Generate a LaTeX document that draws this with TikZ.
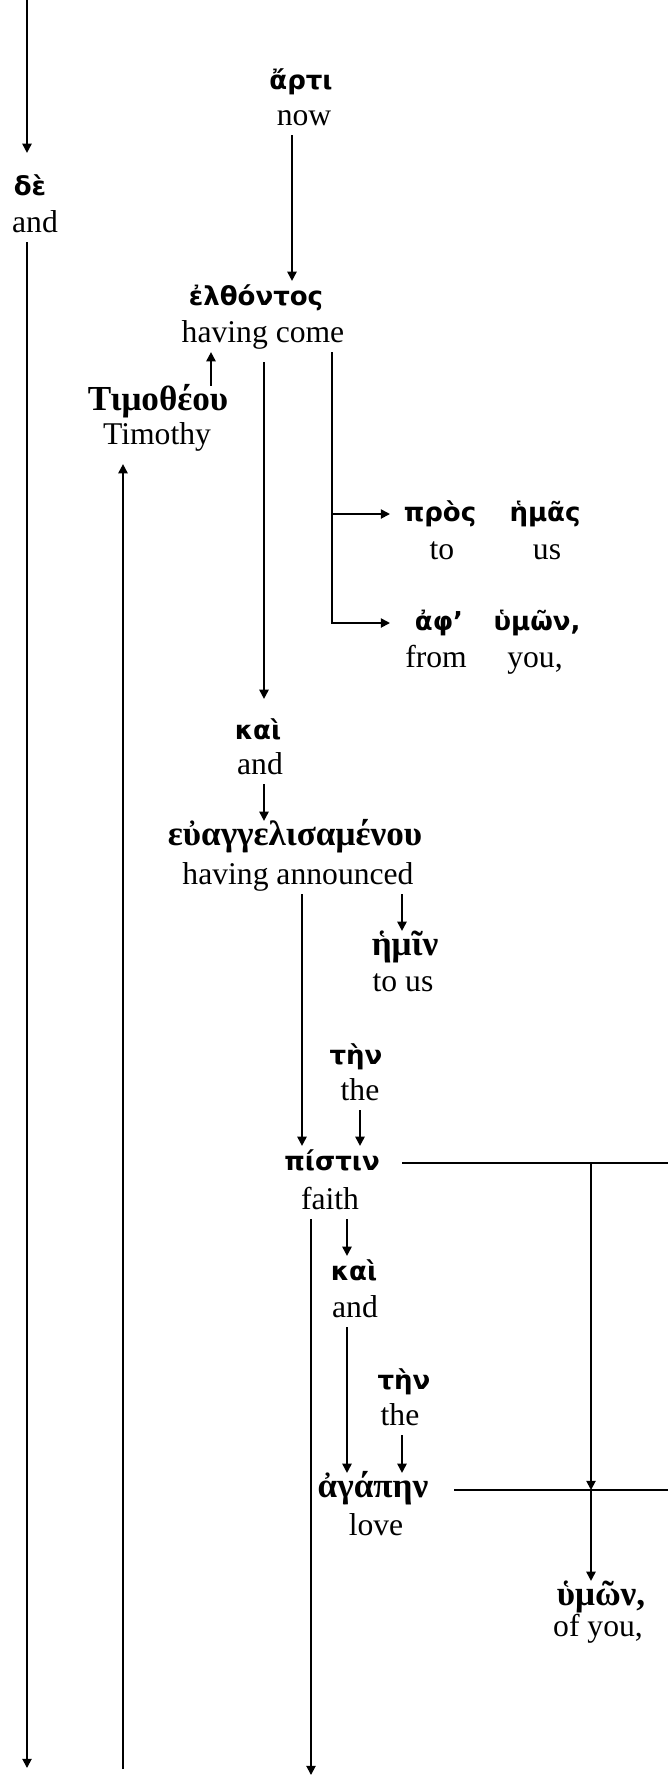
\documentclass[tikz,border=0pt]{standalone}
\usepackage{fontspec}
\setmainfont{Liberation Serif}
\newfontfamily\grk{DejaVu Sans}
\newfontfamily\grks{Liberation Serif}
\usetikzlibrary{arrows.meta,calc}

\tikzset{
  >={Triangle[length=2.3mm,width=2.3mm]},
  gk/.style={font=\grk\bfseries\fontsize{18.5}{24}\selectfont, inner sep=0pt, text height=17pt, text depth=6pt},
  gks/.style={gk, font=\grks\bfseries\fontsize{25}{26}\selectfont},
  en/.style={font=\fontsize{22.5}{26}\selectfont, inner sep=0pt, text height=17pt, text depth=6pt},
}

\begin{document}
\begin{tikzpicture}[x=0.025cm,y=-0.025cm,line width=1.3pt]
 \useasboundingbox (0,0) rectangle (668,1775);
 % words
 \node[gk] (de) at (30,188) {δὲ};
 \node[en] (de-e) at (35,225) {and};
 \node[gk] (arti) at (301,82) {ἄρτι};
 \node[en] (arti-e) at (304,118) {now};
 \node[gk] (elth) at (256,298) {ἐλθόντος};
 \node[en] (elth-e) at (263,335) {having come};
 \node[gks] (timo) at (158,403) {Τιμοθέου};
 \node[en] (timo-e) at (157,437) {Timothy};
 \node[gk] (pros) at (440,514) {πρὸς};
 \node[en] (pros-e) at (442,552) {to};
 \node[gk] (hemas) at (545,514) {ἡμᾶς};
 \node[en] (hemas-e) at (547,552) {us};
 \node[gk] (aph) at (439,623) {ἀφ’};
 \node[en] (aph-e) at (436,660) {from};
 \node[gk] (hymon) at (537,623) {ὑμῶν,};
 \node[en] (hymon-e) at (535,660) {you,};
 \node[gk] (kai) at (258,732) {καὶ};
 \node[en] (kai-e) at (260,767) {and};
 \node[gks] (euang) at (295,838) {εὐαγγελισαμένου};
 \node[en] (euang-e) at (298,877) {having announced};
 \node[gks] (hemin) at (405,948) {ἡμῖν};
 \node[en] (hemin-e) at (403,984) {to us};
 \node[gk] (ten) at (356,1057) {τὴν};
 \node[en] (ten-e) at (360,1093) {the};
 \node[gk] (pistin) at (332,1163) {πίστιν};
 \node[en] (pistin-e) at (330,1202) {faith};
 \node[gk] (kaii) at (354,1273) {καὶ};
 \node[en] (kaii-e) at (355,1310) {and};
 \node[gk] (tenn) at (404,1382) {τὴν};
 \node[en] (tenn-e) at (400,1418) {the};
 \node[gks] (agapen) at (373,1490) {ἀγάπην};
 \node[en] (agapen-e) at (376,1528) {love};
 \node[gks] (hymonn) at (601,1598) {ὑμῶν,};
 \node[en] (hymonn-e) at (598,1629) {of you,};
 % line ends
 \coordinate (topl) at (27,0);
 \coordinate (botl) at (27,1768);
 \coordinate (bott) at (123,1769);
 \coordinate (botf) at (311,1775);
 \coordinate (pr) at (668,1163);
 \coordinate (pc) at (591,1163);
 \coordinate (ar) at (668,1490);
 \coordinate (ac) at (591,1490);
 % connectors
 \draw[->] (topl) -- ($(de.north -| topl)+(0,-18)$);
 \draw[->] (de-e.south -| topl) -- (botl);
 \draw[->] (bott) -- ($(timo-e.south -| bott)+(0,10)$);
 \draw[->] (arti-e.south -| 292,0) -- (elth.north -| 292,0);
 \draw[->] (timo.north -| 211,0) -- (elth-e.south -| 211,0);
 \draw[->] ($(elth-e.south -| 264,0)+(0,10)$) -- ($(kai.north -| 264,0)+(0,-16)$);
 \draw[->] (elth-e.south -| 332,0) |- (390,0 |- aph.west);
 \draw[->] (332,0 |- pros.west) -- (390,0 |- pros.west);
 \draw[->] (kai-e.south -| 264,0) -- (euang.north -| 264,0);
 \draw[->] (euang-e.south -| 402,0) -- (hemin.north -| 402,0);
 \draw[->] (euang-e.south -| 302,0) -- (pistin.north -| 302,0);
 \draw[->] (ten-e.south -| 360,0) -- (pistin.north -| 360,0);
 \draw[->] (pistin-e.south -| 347,0) -- (kaii.north -| 347,0);
 \draw[->] (pistin-e.south -| 311,0) -- (botf);
 \draw[->] (kaii-e.south -| 347,0) -- (agapen.north -| 347,0);
 \draw[->] (tenn-e.south -| 402,0) -- (agapen.north -| 402,0);
 \draw (402,0 |- pistin.east) -- (pr);
 \draw (454,0 |- agapen.east) -- (ar);
 \draw[->] (pc) -- (ac);
 \draw[->] (ac) -- (hymonn.north -| ac);
\end{tikzpicture}
\end{document}
